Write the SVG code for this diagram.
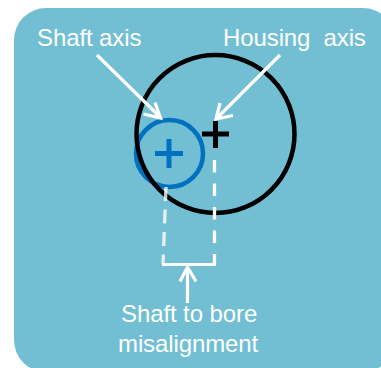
<svg xmlns="http://www.w3.org/2000/svg" width="381" height="368" viewBox="0 0 381 368">
<style>
text{font-family:"Liberation Sans",Arial,sans-serif;font-size:24px;fill:#fff;white-space:pre;letter-spacing:-.1px}
.w{fill:none;stroke:#fff;stroke-width:3.2}
.d{fill:none;stroke:#fff;stroke-width:3.300;stroke-dasharray:12.500 11}
.b{fill:none;stroke:#000;stroke-width:4.500}
.u{fill:none;stroke:#0070C0;stroke-width:4.500}
.p{stroke-width:5}
</style>
<rect width="381" height="368" fill="#fff"/>
<rect id="panel" x="14" y="8" width="381" height="364" rx="32" fill="#72BFD3"/>
<g id="shaft"><circle cx="169.500" cy="153.500" r="33.500" class="u"/><path d="M155 153.500H183M169 139V168" class="u p"/></g>
<g id="housing"><circle cx="215.500" cy="134" r="79" class="b"/><path d="M202 134H229M215.500 121V148" class="b p"/></g>
<g id="connectors">
<path d="M97 55L160 117M143.500 114L160.500 118L155 102.500" class="w"/>
<path d="M280 55L217 118M220 103L216 119L233 115.500" class="w"/>
<path d="M166 187L163 264" class="d" style="stroke-dasharray:14 8.500;stroke-opacity:.8"/>
<path d="M214.500 160V265" class="d"/>
<path d="M162 264.500H216" class="w"/>
<path d="M187.500 303V267M180 281.500L187.500 267L196 281.500" class="w"/>
</g>
<g id="labels">
<text x="37" y="46">Shaft axis</text>
<text x="223" y="46">Housing  axis</text>
<text x="121" y="322">Shaft to bore</text>
<text x="118" y="352">misalignment</text>
</g>
</svg>
